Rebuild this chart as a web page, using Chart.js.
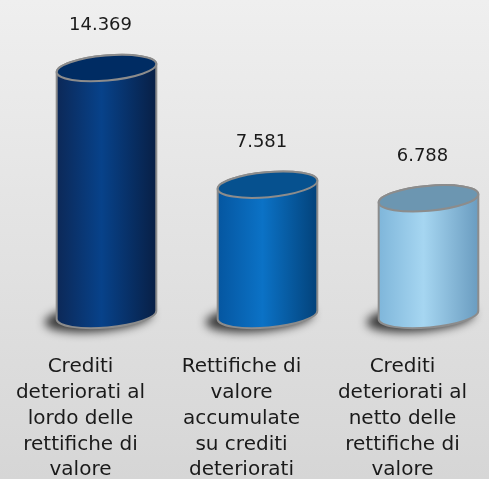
<!DOCTYPE html>
<html>
<head>
<meta charset="utf-8">
<script src="https://cdn.jsdelivr.net/npm/chart.js@4"></script>
<style>
  html, body { margin: 0; padding: 0; }
  body { width: 489px; height: 479px; background: #e4e4e4; }
  #wrap { position: relative; width: 489px; height: 479px; }
</style>
</head>
<body>
<div id="wrap"><canvas id="chart-cyl"></canvas></div>
<script>
const categories = [
  ["Crediti", "deteriorati al", "lordo delle", "rettifiche di", "valore"],
  ["Rettifiche di", "valore", "accumulate", "su crediti", "deteriorati"],
  ["Crediti", "deteriorati al", "netto delle", "rettifiche di", "valore"],
];
const values = [14369, 7581, 6788];

const CYL = [
  { left: "#0c2857", mid: "#07428a", right: "#081f45", top: "#002c63" },
  { left: "#0556a0", mid: "#0b72c6", right: "#03427a", top: "#06518f" },
  { left: "#7fb6da", mid: "#a6d6f1", right: "#6a9cc0", top: "#6c96b1" },
];

const fmt = new Intl.NumberFormat("it-IT");

const bgPlugin = {
  id: "bg",
  beforeDraw(chart) {
    const ctx = chart.ctx;
    const g = ctx.createLinearGradient(0, 0, 0, chart.height);
    g.addColorStop(0, "#efefef");
    g.addColorStop(1, "#d6d6d6");
    ctx.save();
    ctx.fillStyle = g;
    ctx.fillRect(0, 0, chart.width, chart.height);
    ctx.restore();
  },
};

const cylinderPlugin = {
  id: "cylinders",
  afterDatasetsDraw(chart) {
    const ctx = chart.ctx;
    const meta = chart.getDatasetMeta(0);
    const rot = -5 * Math.PI / 180;
    meta.data.forEach((bar, i) => {
      const c = CYL[i];
      const cx = bar.x + 26;
      const rx = bar.width / 2;
      const ry = 12.5;
      const yTop = bar.y;
      const yBot = bar.base;
      const dx = rx * Math.cos(rot);
      const dy = rx * Math.sin(rot);

      ctx.save();
      // shadow
      ctx.filter = "blur(5px)";
      ctx.fillStyle = "rgba(0,0,0,0.75)";
      ctx.beginPath();
      ctx.ellipse(cx - 8, yBot + 3, rx + 4, ry + 1, rot, 0, Math.PI * 2);
      ctx.fill();
      ctx.filter = "none";

      // body
      const g = ctx.createLinearGradient(cx - rx, 0, cx + rx, 0);
      g.addColorStop(0, c.left);
      g.addColorStop(0.45, c.mid);
      g.addColorStop(1, c.right);
      ctx.beginPath();
      ctx.moveTo(cx - dx, yTop - dy);
      ctx.lineTo(cx - dx, yBot - dy);
      ctx.ellipse(cx, yBot, rx, ry, rot, Math.PI, 0, true);
      ctx.lineTo(cx + dx, yTop + dy);
      ctx.ellipse(cx, yTop, rx, ry, rot, 0, Math.PI, true);
      ctx.closePath();
      ctx.fillStyle = g;
      ctx.fill();
      ctx.strokeStyle = "#8c8c8c";
      ctx.lineWidth = 2;
      ctx.stroke();

      // top
      ctx.beginPath();
      ctx.ellipse(cx, yTop, rx, ry, rot, 0, Math.PI * 2);
      ctx.fillStyle = c.top;
      ctx.fill();
      ctx.stroke();

      // value label
      ctx.fillStyle = "#1a1a1a";
      ctx.font = "18px 'DejaVu Sans', sans-serif";
      ctx.textAlign = "center";
      ctx.textBaseline = "middle";
      ctx.fillText(fmt.format(values[i]), cx - 6, yTop - ry - 30);
      ctx.restore();
    });
  },
};

new Chart(document.getElementById("chart-cyl"), {
  type: "bar",
  data: {
    labels: categories,
    datasets: [
      {
        data: values,
        backgroundColor: "rgba(0,0,0,0)",
        borderWidth: 0,
        barThickness: 100,
      },
    ],
  },
  options: {
    responsive: true,
    maintainAspectRatio: false,
    animation: false,
    layout: { padding: { top: 40, left: 0, right: 6, bottom: 0 } },
    plugins: { legend: { display: false }, tooltip: { enabled: false } },
    scales: {
      x: {
        grid: { display: false },
        border: { display: false },
        afterFit(scale) {
          scale.height = 164;
          scale.paddingLeft = 0;
          scale.paddingRight = 0;
        },
        ticks: {
          color: "#1a1a1a",
          padding: 31,
          maxRotation: 0,
          autoSkip: false,
          font: { family: "'DejaVu Sans', sans-serif", size: 20, lineHeight: 1.29 },
        },
      },
      y: {
        display: false,
        min: 0,
        max: 16000,
      },
    },
  },
  plugins: [bgPlugin, cylinderPlugin],
});
</script>
</body>
</html>
